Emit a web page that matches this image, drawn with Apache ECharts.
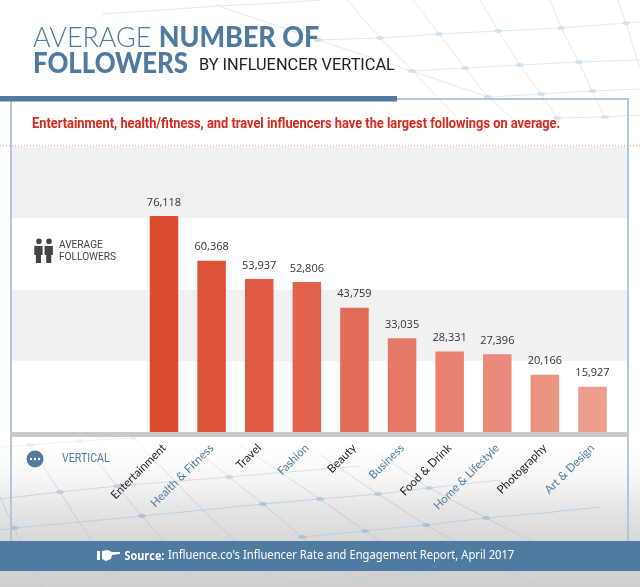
<!DOCTYPE html>
<html><head><meta charset="utf-8">
<style>html,body{margin:0;padding:0;background:#fff}#c{width:640px;height:587px}</style>
<script src="https://cdn.jsdelivr.net/npm/echarts@6/dist/echarts.min.js"></script>
</head><body><div id="c"></div>
<script>
const categories = ['Entertainment','Health & Fitness','Travel','Fashion','Beauty','Business','Food & Drink','Home & Lifestyle','Photography','Art & Design'];
const followers = [76118,60368,53937,52806,43759,33035,28331,27396,20166,15927];
const barColors = ['#dc4a2f','#df5339','#e05a43','#e2644e','#e36c58','#e57866','#e88171','#e98a7b','#ec9283','#ee9d8f'];
const labelColors = ['#222','#4f7ba0'];
const titleLine1 = ['AVERAGE ','NUMBER OF'];
const titleLine2 = ['FOLLOWERS','BY INFLUENCER VERTICAL'];
const subtitle = 'Entertainment, health/fitness, and travel influencers have the largest followings on average.';
const sourceLabel = 'Source:';
const sourceText = "Influence.co's Influencer Rate and Engagement Report, April 2017";

const topLines = [
 [[102,14],[163,10],[218,6],[280,3],[320,0]],
 [[318,40],[380,38],[439,34],[498,31],[561,28],[626,23],[640,22]],
 [[412,71],[465,68],[520,65],[579,62],[640,60]],
 [[488,97],[541,94],[592,91],[640,89]],
 [[557,118],[605,117],[640,115]],
 [[347,0],[380,38],[412,70],[438,98],[457,117]],
 [[413,0],[439,34],[465,68],[488,97],[512,118]],
 [[480,0],[498,31],[520,65],[541,94],[557,118]],
 [[550,0],[561,28],[579,62],[592,91],[605,117]],
 [[618,0],[626,23],[637,59],[640,68]],
 [[216,5],[318,40],[412,71],[488,97]]
];
const bottomLines = [
 [[0,447],[30,445],[80,441],[133,438]],
 [[0,499],[60,492],[117,486],[229,477],[360,466]],
 [[0,530],[14,528],[80,522],[142,516],[204,510],[263,504],[320,499],[378,494],[429,488],[500,480]],
 [[302,537],[365,531],[426,525],[486,518],[543,513],[600,507]],
 [[277,585],[353,578],[424,572],[470,568]],
 [[0,497],[14,528],[35,573],[41,587]],
 [[30,445],[60,492],[79,522],[88,535],[110,572],[120,587]],
 [[80,441],[117,486],[142,516],[167,545],[187,572],[207,587]],
 [[133,438],[203,510],[240,545],[267,572],[285,587]],
 [[190,445],[229,477],[263,504],[302,537],[345,572],[370,587]],
 [[240,445],[320,499],[365,531],[392,550],[445,587]],
 [[320,455],[378,494],[426,525],[480,555],[540,587]],
 [[380,455],[429,488],[486,518],[540,545]]
];
const nodes = (lines, fill, z) => {
  const seen = {}, out = [];
  lines.forEach(l => l.forEach(p => { const k = p.join(); seen[k] = (seen[k]||0)+1; }));
  Object.keys(seen).filter(k => seen[k] > 1).forEach(k => { const p = k.split(',').map(Number);
    out.push({type:'ellipse',z:z,shape:{cx:p[0],cy:p[1],rx:4,ry:2},style:{fill}}); });
  return out;
};
const lineEls = (lines, stroke, z) => lines.map(pts => ({type:'polyline',z:z,shape:{points:pts},style:{stroke,lineWidth:1,fill:null}}));
const bg = {type:'rect',z:-30,shape:{x:0,y:0,width:640,height:587},style:{fill:new echarts.graphic.LinearGradient(0,0,0,1,[
  {offset:0,color:'#fff'},{offset:0.76,color:'#fff'},{offset:0.92,color:'#d8d8d8'},{offset:1,color:'#cfcfcf'}])}};
const fade = {type:'rect',z:-15,shape:{x:0,y:437,width:640,height:70},style:{fill:new echarts.graphic.LinearGradient(0,0,0,1,[
  {offset:0,color:'rgba(255,255,255,0.8)'},{offset:1,color:'rgba(255,255,255,0)'}])}};
const txt = (text,x,y,font,fill,sx) => ({type:'text',z:10,x,y,scaleX:sx||1,style:{text,font,fill,textVerticalAlign:'middle'}});
const rect = (x,y,w,h,fill,z) => ({type:'rect',z:z===undefined?5:z,shape:{x,y,width:w,height:h},style:{fill}});
const blue = '#4f7ba0';
const ink = '#444';
const graphic = [bg]
 .concat(lineEls(topLines,'#e2eaf1',-20), nodes(topLines,'#d5e1ea',-19))
 .concat(lineEls(bottomLines,'#bfd0dd',-20), nodes(bottomLines,'#adc4d5',-19))
 .concat([
  fade,
  rect(10,98,618,2,'#b4c7d8',1), rect(10,98,2,443,'#b4c7d8',1), rect(627,98,2,443,'#b4c7d8',1),
  rect(0,96,397,5.5,blue,6),
  {type:'line',z:6,shape:{x1:0,y1:146,x2:640,y2:146},style:{stroke:'#e98a7b',lineWidth:1,lineDash:[1,2]}},
  rect(11,432,617,5,'#c9c9c9',6),
  rect(0,541,640,30,blue,6),
  {type:'text',z:10,x:33,y:38,scaleX:0.96,style:{text:'{a|'+titleLine1[0]+'}{b|'+titleLine1[1]+'}',textVerticalAlign:'middle',
    rich:{a:{font:'300 28px Lato',fill:blue},b:{font:'900 28px Lato',fill:blue}}}},
  txt(titleLine2[0],33,64,'900 28px Lato',blue,0.92),
  txt(titleLine2[1],199,66,'400 17px Roboto','#222',0.96),
  txt(subtitle,32,124,'bold 14.5px Roboto','#d9281c',0.885),
  txt('AVERAGE',59,245,'11.5px Roboto',ink,0.88),
  txt('FOLLOWERS',59,257,'11.5px Roboto',ink,0.88),
  txt('VERTICAL',62,459,'12.5px Roboto',blue,0.85),
  {type:'circle',z:10,shape:{cx:35,cy:459,r:8.5},style:{fill:blue}},
  {type:'circle',z:10,shape:{cx:39,cy:241.3,r:2.8},style:{fill:ink}},
  {type:'circle',z:10,shape:{cx:49,cy:241.3,r:2.8},style:{fill:ink}}
 ]);
[34.3,44.6].forEach(x=>{ graphic.push({type:'polygon',z:10,shape:{points:[[x,246],[x+8.3,246],[x+8.3,255],[x+6.7,255],[x+6.7,263],[x+1.6,263],[x+1.6,255],[x,255]]},style:{fill:ink}}); });
[31,35,39].forEach(x=>graphic.push({type:'circle',z:11,shape:{cx:x,cy:459,r:1.2},style:{fill:'#fff'}}));
graphic.push(rect(97,551,3,9,'#fff',10));
graphic.push({type:'polygon',z:10,shape:{points:[[102,551],[108,550],[112,552],[120,552],[120,554],[112,555],[111,559],[106,561],[102,559]]},style:{fill:'#fff'}});
graphic.push(txt(sourceLabel,124.5,556,'bold 12.5px "Open Sans"','#fff',0.87));
graphic.push(txt(sourceText,168,556,'12.2px "Noto Sans"','#fff',0.92));

const chart = echarts.init(document.getElementById('c'),null,{renderer:'canvas'});
const labelRich = c => ({color:c,fontFamily:'Lato',fontSize:11.5});
chart.setOption({
  animation:false,
  graphic:{elements:graphic},
  grid:[
    {left:140.2,right:23.7,top:147,height:285},
    {left:12,right:13,top:147,height:285,z:0}
  ],
  xAxis:[
    {type:'category',gridIndex:0,data:categories,axisLine:{show:false},axisTick:{show:false},
     axisLabel:{interval:0,rotate:45,margin:14,fontFamily:'Lato',fontSize:11.5,
       formatter:(v,i)=>`{c${i%2}|${v}}`,
       rich:{c0:labelRich(labelColors[0]),c1:labelRich(labelColors[1])}}},
    {type:'value',gridIndex:1,min:0,max:1,show:false}
  ],
  yAxis:[
    {type:'value',gridIndex:0,min:0,max:100400,axisLabel:{show:false},axisLine:{show:false},axisTick:{show:false},splitLine:{show:false}},
    {type:'value',gridIndex:1,min:0,max:100000,interval:25000,axisLabel:{show:false},axisLine:{show:false},axisTick:{show:false},splitLine:{show:false},
     splitArea:{show:true,areaStyle:{color:['#ffffff','#f1f1f1']}}}
  ],
  series:[{type:'bar',xAxisIndex:0,yAxisIndex:0,barWidth:28.5,z:5,
    data:followers.map((v,i)=>({value:v,itemStyle:{color:barColors[i]}})),
    label:{show:true,position:'top',distance:8,fontFamily:'"Open Sans"',fontSize:11,color:'#333',
      formatter:p=>p.value.toLocaleString('en-US')}}]
});
</script></body></html>
